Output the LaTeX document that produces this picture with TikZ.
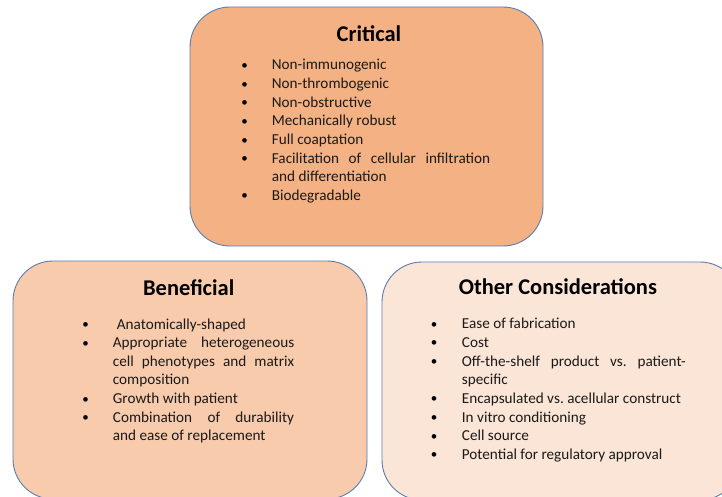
\documentclass[tikz,border=0pt]{standalone}
\usepackage{fontspec}
\setmainfont{Carlito}
\frenchspacing
\definecolor{critfill}{HTML}{F4B183}
\definecolor{benefill}{HTML}{F8CBAD}
\definecolor{otherfill}{HTML}{FBE5D6}
\definecolor{edgeblue}{HTML}{5B7DB1}
\definecolor{bodytext}{HTML}{1A1A1A}
\tikzset{
  panel/.style={draw=edgeblue, line width=0.9pt, rounded corners=40pt, inner sep=0pt},
  heading/.style={anchor=base, inner sep=0pt, font=\fontsize{22.5}{27}\selectfont\bfseries, text=black},
  itemline/.style={anchor=base west, inner sep=0pt, font=\fontsize{15.2}{18.65}\selectfont, text=bodytext},
  bulletmark/.style={anchor=base, inner sep=0pt, font=\fontsize{13}{18.65}\selectfont, text=black},
}
% justified line of a given width
\newcommand{\jline}[2]{\makebox[#1pt][s]{#2}}
\begin{document}
\begin{tikzpicture}[x=1pt, y=-1pt]
\useasboundingbox (0,0) rectangle (722,497);
\clip (0,0) rectangle (722,497);

% ---- panels ----
\node[panel, fill=critfill, minimum width=353, minimum height=239] (critical) at (366.5,126.5) {};
\node[panel, fill=benefill, minimum width=354, minimum height=238] (beneficial) at (190,380) {};
\node[panel, fill=otherfill, minimum width=358, minimum height=238] (other) at (561,381) {};

% ---- Critical ----
\node[heading] (crit-title) at (369,42) {Critical};
\node[bulletmark] (cb1) at (244.5,69.5) {•};
\node[itemline] (c1) at (271.7,70) {Non-immunogenic};
\node[bulletmark] (cb2) at (244.5,88.1) {•};
\node[itemline] (c2) at (271.7,88.6) {Non-thrombogenic};
\node[bulletmark] (cb3) at (244.5,106.8) {•};
\node[itemline] (c3) at (271.7,107.3) {Non-obstructive};
\node[bulletmark] (cb4) at (244.5,125.4) {•};
\node[itemline] (c4) at (271.7,125.9) {Mechanically robust};
\node[bulletmark] (cb5) at (244.5,144.1) {•};
\node[itemline] (c5) at (271.7,144.6) {Full coaptation};
\node[bulletmark] (cb6) at (244.5,162.7) {•};
\node[itemline] (c6) at (271.7,163.2) {\jline{218.3}{Facilitation of cellular infiltration}};
\node[itemline] (c7) at (271.7,181.9) {and differentiation};
\node[bulletmark] (cb8) at (244.5,200.0) {•};
\node[itemline] (c8) at (271.7,200.5) {Biodegradable};

% ---- Beneficial ----
\node[heading] (bene-title) at (188.7,295.3) {Beneficial};
\node[bulletmark] (bb1) at (85.5,328.5) {•};
\node[itemline] (b1) at (116.7,329) {Anatomically-shaped};
\node[bulletmark] (bb2) at (85.5,347.1) {•};
\node[itemline] (b2) at (112.7,347.6) {\jline{181.3}{Appropriate heterogeneous}};
\node[itemline] (b3) at (112.7,366.3) {\jline{181.3}{cell phenotypes and matrix}};
\node[itemline] (b4) at (112.7,384.9) {composition};
\node[bulletmark] (bb5) at (85.5,403.1) {•};
\node[itemline] (b5) at (112.7,403.6) {Growth with patient};
\node[bulletmark] (bb6) at (85.5,421.7) {•};
\node[itemline] (b6) at (112.7,422.2) {\jline{181.3}{Combination of durability}};
\node[itemline] (b7) at (112.7,440.9) {and ease of replacement};

% ---- Other Considerations ----
\node[heading] (other-title) at (557.9,294.6) {Other Considerations};
\node[bulletmark] (ob1) at (434,328.3) {•};
\node[itemline] (o1) at (461.7,328.8) {Ease of fabrication};
\node[bulletmark] (ob2) at (434,346.9) {•};
\node[itemline] (o2) at (461.7,347.4) {Cost};
\node[bulletmark] (ob3) at (434,365.6) {•};
\node[itemline] (o3) at (461.7,366.1) {\jline{224}{Off-the-shelf product vs. patient-}};
\node[itemline] (o4) at (461.7,384.7) {specific};
\node[bulletmark] (ob5) at (434,402.9) {•};
\node[itemline] (o5) at (461.7,403.4) {Encapsulated vs. acellular construct};
\node[bulletmark] (ob6) at (434,421.5) {•};
\node[itemline] (o6) at (461.7,422) {In vitro conditioning};
\node[bulletmark] (ob7) at (434,440.2) {•};
\node[itemline] (o7) at (461.7,440.7) {Cell source};
\node[bulletmark] (ob8) at (434,458.8) {•};
\node[itemline] (o8) at (461.7,459.3) {Potential for regulatory approval};
\end{tikzpicture}
\end{document}
